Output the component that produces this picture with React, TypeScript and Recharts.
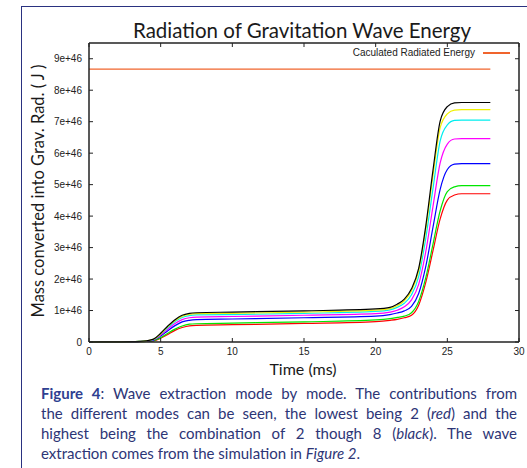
import { LineChart, Line, XAxis, YAxis, Legend } from "recharts";

// time in ms, energy in units of 1e46 J
const times = [0, 2, 3, 3.5, 4, 4.5, 5, 5.5, 6, 6.5, 7, 7.5, 10, 15, 20, 21, 21.5, 22, 22.5, 23, 23.5, 24, 24.5, 25, 25.5, 26, 28];

const mode2 = [0, 0.002, 0.004, 0.008, 0.016, 0.037, 0.12, 0.24, 0.37, 0.46, 0.515, 0.53, 0.55, 0.59, 0.65, 0.69, 0.72, 0.77, 0.85, 1.17, 1.9, 2.9, 3.91, 4.51, 4.67, 4.71, 4.71];
const mode3 = [0, 0.002, 0.005, 0.01, 0.02, 0.045, 0.14, 0.28, 0.41, 0.51, 0.565, 0.58, 0.6, 0.64, 0.7, 0.74, 0.78, 0.82, 0.93, 1.29, 2.05, 3.11, 4.17, 4.78, 4.93, 4.97, 4.97];
const mode4 = [0, 0.003, 0.007, 0.014, 0.026, 0.06, 0.19, 0.36, 0.52, 0.64, 0.69, 0.71, 0.73, 0.77, 0.82, 0.87, 0.92, 0.99, 1.13, 1.54, 2.41, 3.65, 4.85, 5.48, 5.65, 5.67, 5.67];
const mode5 = [0, 0.004, 0.008, 0.016, 0.03, 0.07, 0.22, 0.41, 0.59, 0.71, 0.77, 0.79, 0.81, 0.85, 0.9, 0.95, 1.01, 1.12, 1.34, 1.83, 2.88, 4.31, 5.69, 6.29, 6.45, 6.46, 6.46];
const mode6 = [0, 0.004, 0.009, 0.018, 0.034, 0.08, 0.25, 0.46, 0.65, 0.78, 0.84, 0.86, 0.87, 0.91, 0.97, 1.02, 1.1, 1.23, 1.5, 2.08, 3.31, 4.88, 6.39, 6.9, 7.04, 7.05, 7.05];
const mode7 = [0, 0.005, 0.01, 0.02, 0.035, 0.085, 0.26, 0.49, 0.68, 0.82, 0.88, 0.9, 0.91, 0.95, 1.01, 1.06, 1.15, 1.31, 1.63, 2.26, 3.59, 5.29, 6.81, 7.25, 7.37, 7.38, 7.38];
const mode8 = [0, 0.005, 0.01, 0.02, 0.04, 0.09, 0.28, 0.51, 0.71, 0.85, 0.91, 0.93, 0.95, 0.99, 1.05, 1.1, 1.2, 1.36, 1.69, 2.34, 3.7, 5.46, 7.02, 7.48, 7.6, 7.61, 7.61];
const radiatedEnergy = 8.67;

const xTicks = [0, 5, 10, 15, 20, 25, 30];
const yTicks = [0, 1, 2, 3, 4, 5, 6, 7, 8, 9];

const series = [
  { key: "m2", values: mode2, color: "#ff0000" },
  { key: "m3", values: mode3, color: "#00e600" },
  { key: "m4", values: mode4, color: "#0000ff" },
  { key: "m5", values: mode5, color: "#ff00ff" },
  { key: "m6", values: mode6, color: "#00eeee" },
  { key: "m7", values: mode7, color: "#f0f000" },
  { key: "m8", values: mode8, color: "#000000" },
];

const data = times.map((t, i) => {
  const row: Record<string, number> = { t, rad: radiatedEnergy };
  series.forEach((s) => (row[s.key] = s.values[i]));
  return row;
});

const tickFont = { fontSize: 10, fontFamily: "Liberation Sans, Arial, sans-serif", fill: "#222" };
const humanist = "Lato, 'Open Sans', sans-serif";
const axisStroke = { stroke: "#222", strokeWidth: 1.5 };

function LegendBox() {
  return (
    <div style={{ display: "flex", justifyContent: "flex-end", alignItems: "center", fontFamily: "Liberation Sans, Arial, sans-serif", fontSize: 10, lineHeight: "12px", color: "#222" }}>
      <span>Caculated Radiated Energy</span>
      <span style={{ display: "inline-block", width: 27, height: 1.3, background: "#f0642d", marginLeft: 8 }} />
    </div>
  );
}

export default function App() {
  return (
    <div style={{ position: "absolute", left: 0, top: 0, width: 527, height: 468, overflow: "hidden", background: "#fff" }}>
      <div style={{ position: "absolute", left: 21, top: 6, width: 620, height: 520, border: "1.3px solid #2a3280" }} />
      <div style={{ position: "absolute", left: 302, top: 30, transform: "translate(-50%,-50%)", fontFamily: humanist, fontSize: 20.5, color: "#1a1a1a", whiteSpace: "nowrap" }}>
        Radiation of Gravitation Wave Energy
      </div>
      <div style={{ position: "absolute", left: 38, top: 191, transform: "translate(-50%,-50%) rotate(-90deg)", fontFamily: humanist, fontSize: 16.5, color: "#1a1a1a", whiteSpace: "nowrap" }}>
        Mass converted into Grav. Rad. ( J )
      </div>
      <div style={{ position: "absolute", left: 303, top: 368, transform: "translate(-50%,-50%)", fontFamily: humanist, fontSize: 16, color: "#1a1a1a", whiteSpace: "nowrap" }}>
        Time (ms)
      </div>
      <div style={{ position: "absolute", left: 0, top: 0 }}>
        <LineChart width={560} height={362} data={data} margin={{ top: 42, right: 40, left: 29, bottom: 0 }}>
          <XAxis xAxisId="b" dataKey="t" type="number" domain={[0, 30]} ticks={xTicks} height={20} tickSize={-4} tickMargin={10} tick={tickFont} axisLine={axisStroke} tickLine={{ stroke: "#222" }} />
          <XAxis xAxisId="top" orientation="top" dataKey="t" type="number" domain={[0, 30]} ticks={xTicks} height={1} tickSize={-4} tickFormatter={() => ""} axisLine={axisStroke} tickLine={{ stroke: "#222" }} />
          <YAxis yAxisId="l" type="number" domain={[0, 9.5]} ticks={yTicks} width={60} tickSize={-4} tickMargin={11} tick={tickFont} tickFormatter={(v: number) => (v === 0 ? "0" : `${v}e+46`)} axisLine={axisStroke} tickLine={{ stroke: "#222" }} />
          <YAxis yAxisId="r" orientation="right" type="number" domain={[0, 9.5]} ticks={yTicks} width={1} tickSize={-4} tickFormatter={() => ""} axisLine={axisStroke} tickLine={{ stroke: "#222" }} />
          <Legend layout="horizontal" verticalAlign="middle" align="center" content={() => <LegendBox />} wrapperStyle={{ position: "absolute", top: 47, left: 0, width: 510, height: 12 }} />
          <Line xAxisId="top" yAxisId="r" dataKey="rad" type="linear" stroke="#f0642d" strokeWidth={1.2} dot={false} isAnimationActive={false} />
          {series.map((s) => (
            <Line key={s.key} xAxisId="b" yAxisId="l" dataKey={s.key} type="monotone" stroke={s.color} strokeWidth={1.2} dot={false} isAnimationActive={false} />
          ))}
        </LineChart>
      </div>
      <div style={{ position: "absolute", left: 41, top: 383, width: 476, fontFamily: humanist, fontSize: 15, lineHeight: "20px", color: "#2d3576" }}>
        <div style={{ textAlign: "justify", textAlignLast: "justify" }}>
          <b style={{ color: "#2f3f91" }}>Figure 4</b>: Wave extraction mode by mode. The contributions from
        </div>
        <div style={{ textAlign: "justify", textAlignLast: "justify" }}>
          the different modes can be seen, the lowest being 2 (<i>red</i>) and the
        </div>
        <div style={{ textAlign: "justify", textAlignLast: "justify" }}>
          highest being the combination of 2 though 8 (<i>black</i>). The wave
        </div>
        <div>
          extraction comes from the simulation in <i>Figure 2</i>.
        </div>
      </div>
    </div>
  );
}
